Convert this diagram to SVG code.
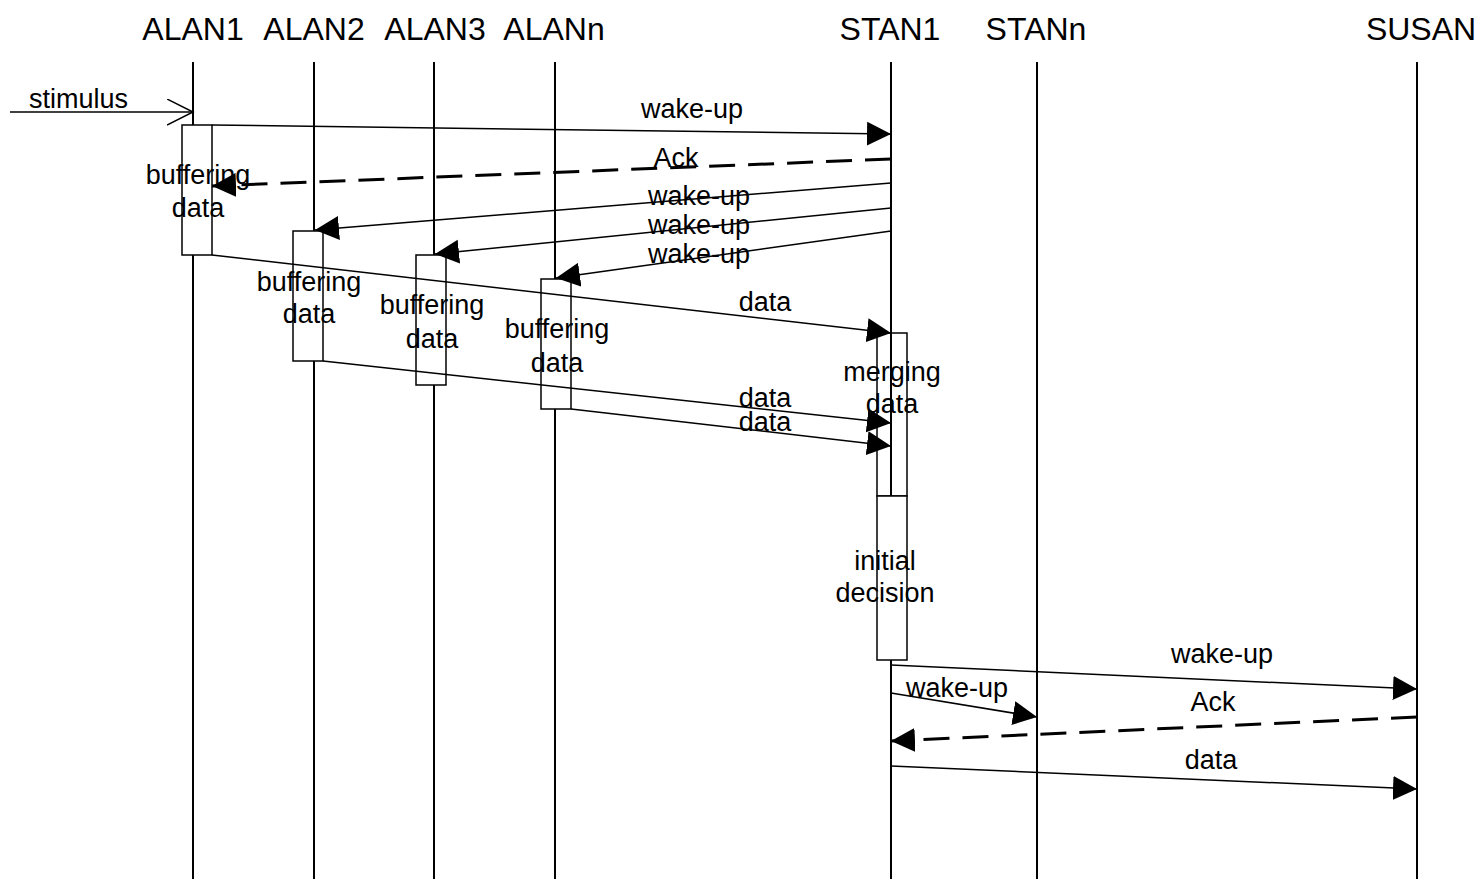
<svg xmlns="http://www.w3.org/2000/svg" width="1483" height="879" viewBox="0 0 1483 879">
<style>
text{font-family:"Liberation Sans",Arial,sans-serif;fill:#000}
.hd{font-size:32px;text-anchor:middle}
.lb{font-size:27px;text-anchor:middle}
.life{stroke:#000;stroke-width:2;fill:none}
.box{stroke:#000;stroke-width:1.5;fill:#fff}
.boxo{stroke:#000;stroke-width:1.5;fill:none}
.msg{stroke:#000;stroke-width:1.5;fill:none;marker-end:url(#fa)}
.ret{stroke:#000;stroke-width:3;fill:none;stroke-dasharray:26 13;marker-end:url(#fa)}
</style>
<defs>
<marker id="fa" markerUnits="userSpaceOnUse" markerWidth="26" markerHeight="26" refX="24" refY="12" orient="auto"><path d="M0,0 L24,12 L0,24 z" fill="#000"/></marker>
<marker id="oa" markerUnits="userSpaceOnUse" markerWidth="28" markerHeight="28" refX="26" refY="13" orient="auto"><path d="M0,0 L26,13 L0,26" fill="none" stroke="#000" stroke-width="1.5"/></marker>
</defs>
<rect width="1483" height="879" fill="#fff"/>
<g id="ALAN1"><text class="hd" x="193" y="40">ALAN1</text><line class="life" x1="193" y1="62" x2="193" y2="879"/></g>
<g id="ALAN2"><text class="hd" x="314" y="40">ALAN2</text><line class="life" x1="314" y1="62" x2="314" y2="879"/></g>
<g id="ALAN3"><text class="hd" x="435" y="40">ALAN3</text><line class="life" x1="434" y1="62" x2="434" y2="879"/></g>
<g id="ALANn"><text class="hd" x="554" y="40">ALANn</text><line class="life" x1="555" y1="62" x2="555" y2="879"/></g>
<g id="STAN1"><text class="hd" x="890" y="40">STAN1</text><line class="life" x1="891" y1="62" x2="891" y2="879"/></g>
<g id="STANn"><text class="hd" x="1036" y="40">STANn</text><line class="life" x1="1037" y1="62" x2="1037" y2="879"/></g>
<g id="SUSAN"><text class="hd" x="1421" y="40">SUSAN</text><line class="life" x1="1417" y1="62" x2="1417" y2="879"/></g>
<g id="act-alan1"><rect class="box" x="182" y="125" width="30" height="130"/></g>
<g id="act-alan2"><rect class="box" x="293" y="231" width="30" height="130"/></g>
<g id="act-alan3"><rect class="box" x="416" y="255" width="30" height="130"/></g>
<g id="act-alann"><rect class="box" x="541" y="279" width="30" height="130"/></g>
<g id="act-stan1-merge"><rect class="boxo" x="877" y="333" width="30" height="163"/></g>
<g id="act-stan1-decision"><rect class="box" x="877" y="496" width="30" height="164"/></g>
<g id="connectors">
<line x1="10" y1="112" x2="193" y2="112" stroke="#000" stroke-width="1.5" marker-end="url(#oa)"/>
<line class="msg" x1="212" y1="125" x2="891" y2="134"/>
<line class="ret" x1="891" y1="159" x2="212" y2="186"/>
<line class="msg" x1="891" y1="183" x2="315" y2="230"/>
<line class="msg" x1="891" y1="208" x2="435" y2="254"/>
<line class="msg" x1="891" y1="231" x2="556" y2="278"/>
<line class="msg" x1="212" y1="255" x2="891" y2="333"/>
<line class="msg" x1="323" y1="361" x2="891" y2="423"/>
<line class="msg" x1="571" y1="409" x2="891" y2="446"/>
<line class="msg" x1="891" y1="665" x2="1417" y2="689"/>
<line class="msg" x1="891" y1="693" x2="1037" y2="717"/>
<line class="ret" x1="1417" y1="717" x2="891" y2="741"/>
<line class="msg" x1="891" y1="766" x2="1417" y2="789"/>
</g>
<g id="labels">
<text x="29" y="108" style="font-size:27px">stimulus</text>
<text class="lb" x="692" y="118">wake-up</text>
<text class="lb" x="676" y="167">Ack</text>
<text class="lb" x="198" y="184">buffering</text>
<text class="lb" x="198" y="217">data</text>
<text class="lb" x="699" y="205">wake-up</text>
<text class="lb" x="699" y="234">wake-up</text>
<text class="lb" x="699" y="263">wake-up</text>
<text class="lb" x="309" y="291">buffering</text>
<text class="lb" x="309" y="323">data</text>
<text class="lb" x="432" y="314">buffering</text>
<text class="lb" x="432" y="348">data</text>
<text class="lb" x="557" y="338">buffering</text>
<text class="lb" x="557" y="372">data</text>
<text class="lb" x="765" y="311">data</text>
<text class="lb" x="765" y="407">data</text>
<text class="lb" x="765" y="431">data</text>
<text class="lb" x="892" y="381">merging</text>
<text class="lb" x="892" y="413">data</text>
<text class="lb" x="885" y="570">initial</text>
<text class="lb" x="885" y="602">decision</text>
<text class="lb" x="1222" y="663">wake-up</text>
<text class="lb" x="957" y="697">wake-up</text>
<text class="lb" x="1213" y="711">Ack</text>
<text class="lb" x="1211" y="769">data</text>
</g>
</svg>
